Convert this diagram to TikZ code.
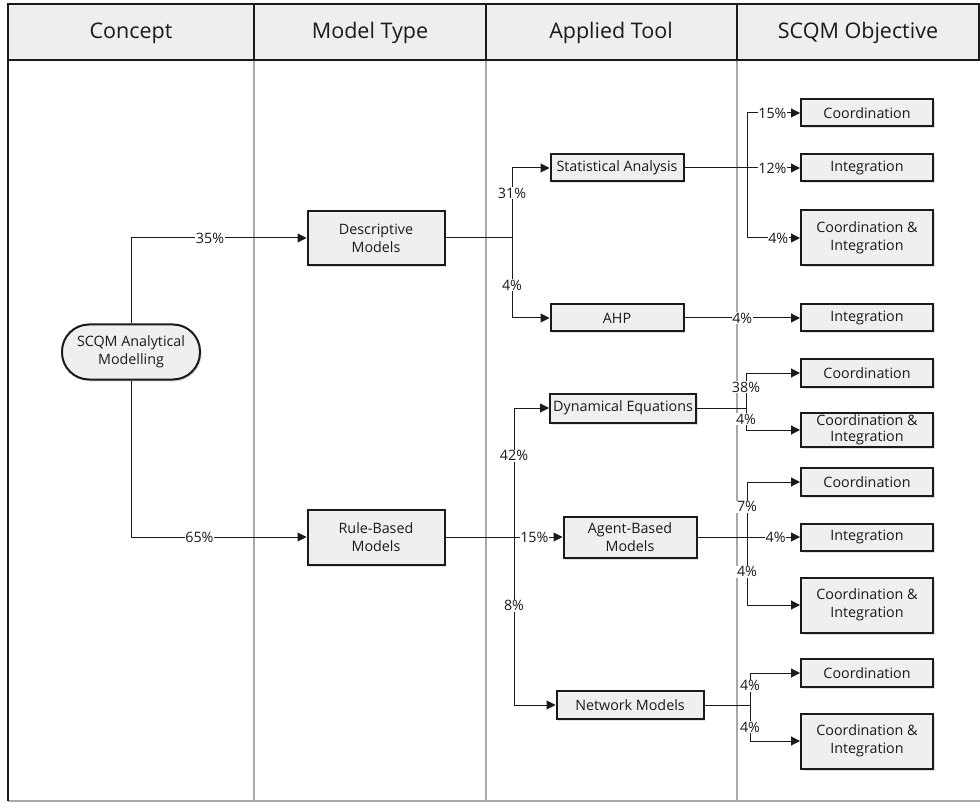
\documentclass[tikz,border=0pt]{standalone}
\usepackage{fontspec}
\setmainfont{Open Sans}
\usetikzlibrary{arrows.meta,shadows}
\definecolor{boxfill}{HTML}{EFEFEF}
\definecolor{hdrfill}{HTML}{EEEEEE}
\definecolor{ink}{HTML}{1A1A1A}
\definecolor{sep}{HTML}{A8A8A8}
\tikzset{
  box/.style={draw=ink, line width=2pt, fill=boxfill, text=ink, align=center,
    inner sep=0pt, font=\fontsize{14.3}{18}\selectfont,
    drop shadow={shadow xshift=1.5pt, shadow yshift=-2pt, opacity=0.25}},
  conn/.style={draw=ink, line width=1pt},
  arr/.style={conn, -{Triangle[length=9pt,width=9pt]}},
  lbl/.style={fill=white, text=ink, inner sep=0.6pt, font=\fontsize{14.3}{16}\selectfont},
  hdr/.style={text=ink, font=\fontsize{21.5}{24}\selectfont}
}
\begin{document}
\begin{tikzpicture}[x=1pt,y=-1pt]
\useasboundingbox (0,0) rectangle (980,802);
% lanes
\draw[sep, line width=1.2pt] (254,60) -- (254,801) (486,60) -- (486,801) (737,60) -- (737,801);
\draw[sep, line width=1.4pt] (8,801) -- (980,801);
\draw[ink, line width=2pt] (8,60) -- (8,801);
% header
\draw[ink, line width=2pt, fill=hdrfill] (8,4) rectangle (979,60);
\draw[ink, line width=1.4pt] (254,4) -- (254,60) (486,4) -- (486,60) (737,4) -- (737,60);
\node[hdr] (h1) at (131,33) {Concept};
\node[hdr] (h2) at (370,33) {Model Type};
\node[hdr] (h3) at (611,33) {Applied Tool};
\node[hdr] (h4) at (858,33) {SCQM Objective};
% nodes
\node[box, minimum width=138pt, minimum height=55pt, rounded corners=27pt] (root) at (131,352) {SCQM Analytical\\Modelling};
\node[box, minimum width=137pt, minimum height=54pt] (desc) at (376,238) {Descriptive\\Models};
\node[box, minimum width=137pt, minimum height=55pt] (rule) at (376,537) {Rule-Based\\Models};
\node[box, minimum width=133pt, minimum height=27pt] (stat) at (617,168) {Statistical Analysis};
\node[box, minimum width=133pt, minimum height=27pt] (ahp) at (617,318) {AHP};
\node[box, minimum width=146pt, minimum height=29pt] (dyn) at (623,408) {Dynamical Equations};
\node[box, minimum width=133pt, minimum height=41pt] (agent) at (630,537) {Agent-Based\\Models};
\node[box, minimum width=147pt, minimum height=28pt] (net) at (630,705) {Network Models};
\node[box, minimum width=132pt, minimum height=27pt] (o1) at (867,113) {Coordination};
\node[box, minimum width=132pt, minimum height=27pt] (o2) at (867,168) {Integration};
\node[box, minimum width=132pt, minimum height=55pt] (o3) at (867,238) {Coordination \&\\Integration};
\node[box, minimum width=132pt, minimum height=27pt] (o4) at (867,318) {Integration};
\node[box, minimum width=132pt, minimum height=28pt] (o5) at (867,373) {Coordination};
\node[box, minimum width=132pt, minimum height=34pt, font=\fontsize{14.3}{16}\selectfont] (o6) at (867,430) {Coordination \&\\Integration};
\node[box, minimum width=132pt, minimum height=28pt] (o7) at (867,482) {Coordination};
\node[box, minimum width=132pt, minimum height=27pt] (o8) at (867,537) {Integration};
\node[box, minimum width=132pt, minimum height=55pt] (o9) at (867,605) {Coordination \&\\Integration};
\node[box, minimum width=132pt, minimum height=28pt] (o10) at (867,673) {Coordination};
\node[box, minimum width=132pt, minimum height=55pt] (o11) at (867,741) {Coordination \&\\Integration};
% concept -> model types
\draw[arr] (root.north) -- (root.north |- desc.west) -- node[lbl,pos=0.45]{35\%} (desc.west);
\draw[arr] (root.south) -- (root.south |- rule.west) -- node[lbl,pos=0.39]{65\%} (rule.west);
% descriptive
\draw[conn] (desc.east) -- (512,238) coordinate (jd);
\draw[arr] (jd) -- node[lbl,pos=0.64]{31\%} (jd |- stat.west) -- (stat.west);
\draw[arr] (jd) -- node[lbl,pos=0.59]{4\%} (jd |- ahp.west) -- (ahp.west);
% statistical analysis
\draw[conn] (stat.east) -- (747,168) coordinate (js);
\draw[arr] (js) -- node[lbl,pos=0.48]{12\%} (o2.west);
\draw[arr] (js) -- (js |- o1.west) -- node[lbl,pos=0.48]{15\%} (o1.west);
\draw[arr] (js) -- (js |- o3.west) -- node[lbl,pos=0.59]{4\%} (o3.west);
% AHP
\draw[arr] (ahp.east) -- node[lbl,pos=0.5]{4\%} (o4.west);
% rule-based
\draw[conn] (rule.east) -- (514,537) coordinate (jr);
\draw[arr] (jr) -- node[lbl,pos=0.42]{15\%} (agent.west);
\draw[arr] (jr) -- node[lbl,pos=0.63]{42\%} (jr |- dyn.west) -- (dyn.west);
\draw[arr] (jr) -- node[lbl,pos=0.41]{8\%} (jr |- net.west) -- (net.west);
% dynamical equations
\draw[conn] (dyn.east) -- (746,408) coordinate (jy);
\draw[arr] (jy) -- node[lbl,pos=0.6]{38\%} (jy |- o5.west) -- (o5.west);
\draw[arr] (jy) -- node[lbl,pos=0.5]{4\%} (jy |- o6.west) -- (o6.west);
% agent-based
\draw[conn] (agent.east) -- (747,537) coordinate (ja);
\draw[arr] (ja) -- node[lbl,pos=0.54]{4\%} (o8.west);
\draw[arr] (ja) -- node[lbl,pos=0.55]{7\%} (ja |- o7.west) -- (o7.west);
\draw[arr] (ja) -- node[lbl,pos=0.51]{4\%} (ja |- o9.west) -- (o9.west);
% network
\draw[conn] (net.east) -- (750,705) coordinate (jn);
\draw[arr] (jn) -- node[lbl,pos=0.6]{4\%} (jn |- o10.west) -- (o10.west);
\draw[arr] (jn) -- node[lbl,pos=0.61]{4\%} (jn |- o11.west) -- (o11.west);
\end{tikzpicture}
\end{document}
